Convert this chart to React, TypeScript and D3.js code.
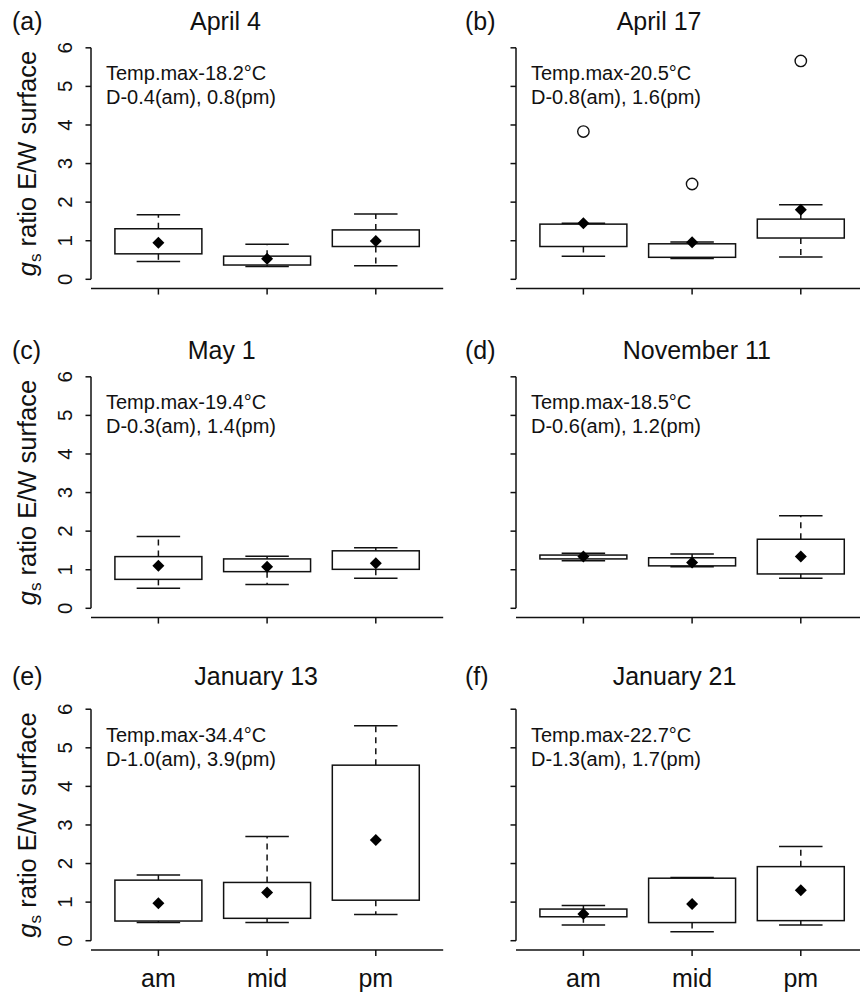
import React from "react";
import * as d3 from "d3";

const panelLabels = ["(a)", "(b)", "(c)", "(d)", "(e)", "(f)"];
const titles = ["April 4", "April 17", "May 1", "November 11", "January 13", "January 21"];
const tempMax = ["18.2", "20.5", "19.4", "18.5", "34.4", "22.7"];
const dAm = ["0.4", "0.8", "0.3", "0.6", "1.0", "1.3"];
const dPm = ["0.8", "1.6", "1.4", "1.2", "3.9", "1.7"];
const periods = ["am", "mid", "pm"];
const yTicks = [0, 1, 2, 3, 4, 5, 6];

// per panel, per period (am, mid, pm)
const whiskerLow = [
  [0.46, 0.33, 0.35],
  [0.6, 0.54, 0.58],
  [0.52, 0.62, 0.78],
  [1.23, 1.08, 0.78],
  [0.47, 0.47, 0.68],
  [0.41, 0.23, 0.41],
];
const q1 = [
  [0.66, 0.37, 0.85],
  [0.85, 0.57, 1.07],
  [0.75, 0.95, 1.01],
  [1.28, 1.1, 0.89],
  [0.51, 0.58, 1.05],
  [0.62, 0.47, 0.52],
];
const q3 = [
  [1.31, 0.6, 1.28],
  [1.43, 0.92, 1.56],
  [1.34, 1.28, 1.49],
  [1.38, 1.31, 1.79],
  [1.57, 1.51, 4.55],
  [0.82, 1.62, 1.92],
];
const whiskerHigh = [
  [1.67, 0.91, 1.69],
  [1.45, 0.97, 1.93],
  [1.86, 1.35, 1.57],
  [1.43, 1.41, 2.4],
  [1.7, 2.7, 5.57],
  [0.91, 1.64, 2.44],
];
const means = [
  [0.95, 0.53, 0.99],
  [1.45, 0.96, 1.8],
  [1.1, 1.08, 1.17],
  [1.34, 1.19, 1.34],
  [0.97, 1.25, 2.61],
  [0.69, 0.95, 1.31],
];
const outliers = [
  [[], [], []],
  [[3.83], [2.47], [5.66]],
  [[], [], []],
  [[], [], []],
  [[], [], []],
  [[], [], []],
];

// layout
const colLeft = [91, 516];
const rowZero = [279.3, 608.3, 940.7];
const unit = 38.58;
const xUnit = 108.7;
const titleLeft = [190, 616.7, 187.7, 622.7, 194.3, 612.7];
const titleBase = [30, 359, 685];
const font = "'Liberation Sans', Arial, sans-serif";

function Panel({ i }: { i: number }) {
  const col = i % 2;
  const row = Math.floor(i / 2);
  const left = colLeft[col];
  const y0 = rowZero[row];
  const x = d3.scaleLinear().domain([0.38, 3.62]).range([left, left + 3.24 * xUnit]);
  const y = d3.scaleLinear().domain([-0.24, 6.24]).range([y0 + 0.24 * unit, y0 - 6.24 * unit]);
  const boxW = 0.8 * xUnit;
  const capW = 0.5 * boxW;
  const diamond = d3.symbol().type(d3.symbolSquare).size(72)();
  const sw = 1.5;
  const bottom = y(-0.24);
  const ink = "#111";
  return (
    <g>
      {/* labels */}
      <text x={col === 0 ? 12 : 465} y={titleBase[row]} fontSize={25} fontFamily={font} fill={ink}>
        {panelLabels[i]}
      </text>
      <text x={titleLeft[i]} y={titleBase[row]} fontSize={25} fontFamily={font} fill={ink}>
        {titles[i]}
      </text>
      {/* y axis */}
      <line x1={left} x2={left} y1={y(0)} y2={y(6)} stroke={ink} strokeWidth={sw} />
      {yTicks.map((t) => (
        <g key={t}>
          <line x1={left - 5.5} x2={left} y1={y(t)} y2={y(t)} stroke={ink} strokeWidth={sw} />
          {col === 0 && (
            <text
              transform={`translate(${left - 19},${y(t)}) rotate(-90)`}
              textAnchor="middle"
              fontSize={20.5}
              fontFamily={font}
              fill={ink}
            >
              {t}
            </text>
          )}
        </g>
      ))}
      {col === 0 && (
        <text
          transform={`translate(35.5,${(y(0) + y(6)) / 2}) rotate(-90)`}
          textAnchor="middle"
          fontSize={25.5}
          fontFamily={font}
          fill={ink}
        >
          <tspan fontStyle="italic">g</tspan>
          <tspan fontSize={17} dy={5}>s</tspan>
          <tspan dy={-5}> ratio E/W surface</tspan>
        </text>
      )}
      {/* x axis */}
      <line x1={left} x2={x(3.62)} y1={bottom} y2={bottom} stroke={ink} strokeWidth={sw} />
      {periods.map((p, k) => (
        <g key={p}>
          <line x1={x(k + 1)} x2={x(k + 1)} y1={bottom} y2={bottom + 6} stroke={ink} strokeWidth={sw} />
          {row === 2 && (
            <text x={x(k + 1)} y={987} textAnchor="middle" fontSize={25} fontFamily={font} fill={ink}>
              {p}
            </text>
          )}
        </g>
      ))}
      {/* annotation */}
      <text x={left + 15} y={y(6) + 32.5} fontSize={20} fontFamily={font} fill={ink}>
        {`Temp.max-${tempMax[i]}°C`}
      </text>
      <text x={left + 15} y={y(6) + 56.5} fontSize={20} fontFamily={font} fill={ink}>
        {`D-${dAm[i]}(am), ${dPm[i]}(pm)`}
      </text>
      {/* boxes */}
      {periods.map((p, k) => {
        const cx = x(k + 1);
        return (
          <g key={p}>
            <line x1={cx} x2={cx} y1={y(q3[i][k])} y2={y(whiskerHigh[i][k])} stroke={ink} strokeWidth={sw} strokeDasharray="6,5" />
            <line x1={cx} x2={cx} y1={y(q1[i][k])} y2={y(whiskerLow[i][k])} stroke={ink} strokeWidth={sw} strokeDasharray="6,5" />
            <line x1={cx - capW / 2} x2={cx + capW / 2} y1={y(whiskerHigh[i][k])} y2={y(whiskerHigh[i][k])} stroke={ink} strokeWidth={sw} />
            <line x1={cx - capW / 2} x2={cx + capW / 2} y1={y(whiskerLow[i][k])} y2={y(whiskerLow[i][k])} stroke={ink} strokeWidth={sw} />
            <rect
              x={cx - boxW / 2}
              y={y(q3[i][k])}
              width={boxW}
              height={y(q1[i][k]) - y(q3[i][k])}
              fill="#fff"
              stroke={ink}
              strokeWidth={sw}
            />
            {outliers[i][k].map((o, m) => (
              <circle key={m} cx={cx} cy={y(o)} r={5.7} fill="none" stroke={ink} strokeWidth={1.4} />
            ))}
            <path d={diamond || ""} transform={`translate(${cx},${y(means[i][k])}) rotate(45)`} fill="#000" />
          </g>
        );
      })}
    </g>
  );
}

export default function App() {
  return (
    <svg
      width={860}
      height={993}
      style={{ position: "absolute", left: 0, top: 0, background: "#fff" }}
    >
      <rect width={860} height={993} fill="#fff" />
      {titles.map((_, i) => (
        <Panel key={i} i={i} />
      ))}
    </svg>
  );
}
